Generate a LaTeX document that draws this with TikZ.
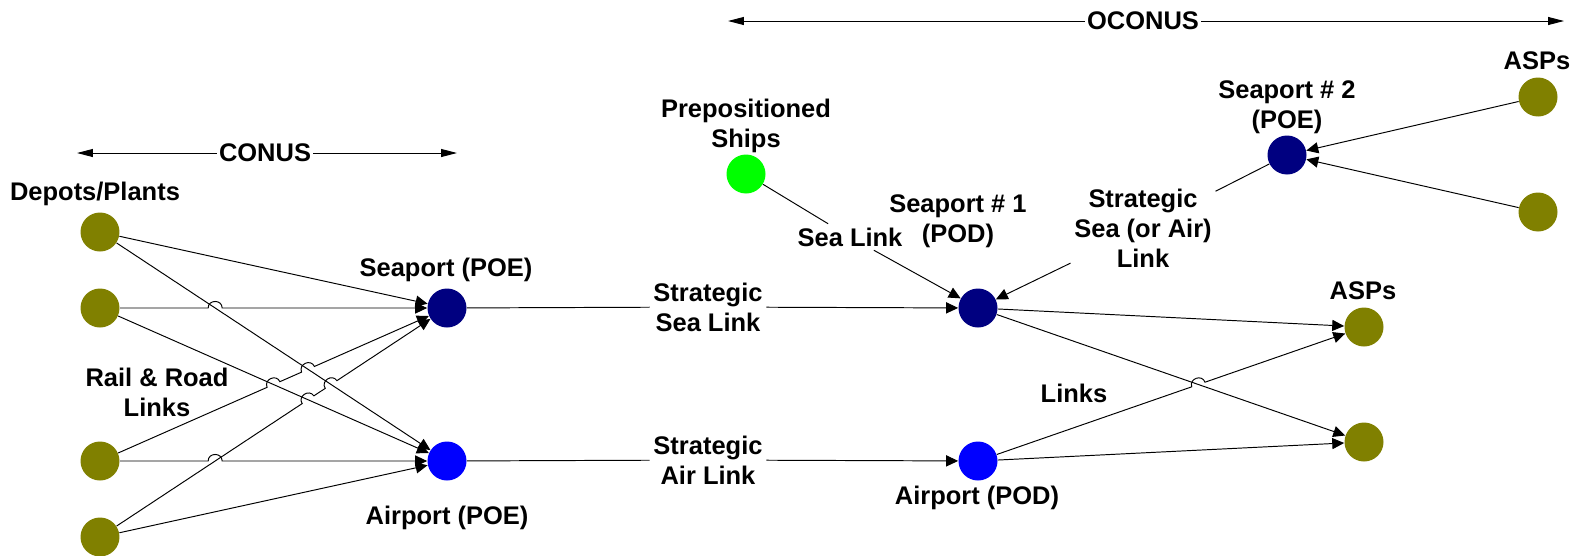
\documentclass[tikz,border=0pt]{standalone}
\usepackage{fontspec}
\setmainfont{Liberation Sans}
\usetikzlibrary{arrows.meta,calc,intersections}
\definecolor{SiteOlive}{HTML}{808000}
\definecolor{PortNavy}{HTML}{000080}
\definecolor{AirBlue}{HTML}{0000FF}
\definecolor{ShipGreen}{HTML}{00FF00}

\begin{document}
\begin{tikzpicture}[x=0.02cm,y=-0.02cm,
  site/.style={circle,inner sep=0pt,minimum size=0.78cm},
  lbl/.style={align=center,inner sep=2pt,font=\fontsize{14.5}{17}\selectfont\bfseries},
  link/.style={line width=0.55pt},
  arr/.style={link,-{Triangle[length=6.8pt,width=6.3pt]}},
  rangearrow/.style={link,-{Triangle[length=9pt,width=4.5pt]}},
  hop/.style={bend left=90,looseness=1.6}]
\path[use as bounding box] (0,0) rectangle (1575,555);

\node[site,fill=SiteOlive] (d1) at (100,232) {};
\node[site,fill=SiteOlive] (d2) at (100,308) {};
\node[site,fill=SiteOlive] (d3) at (100,461) {};
\node[site,fill=SiteOlive] (d4) at (100,537) {};
\node[site,fill=PortNavy] (spoe) at (447,308) {};
\node[site,fill=AirBlue] (apoe) at (447,461) {};
\node[site,fill=ShipGreen] (ships) at (746,174) {};
\node[site,fill=PortNavy] (sp1) at (978,308) {};
\node[site,fill=AirBlue] (apod) at (978,461) {};
\node[site,fill=PortNavy] (sp2) at (1287,155) {};
\node[site,fill=SiteOlive] (asp1) at (1364,327) {};
\node[site,fill=SiteOlive] (asp2) at (1364,442) {};
\node[site,fill=SiteOlive] (aspt1) at (1538,97) {};
\node[site,fill=SiteOlive] (aspt2) at (1538,212) {};

\node[lbl] (depL) at (95,194) {Depots/Plants};
\node[lbl,inner sep=1pt] (conus) at (265,153) {CONUS};
\node[lbl,inner sep=1pt] (oconus) at (1143,21) {OCONUS};
\coordinate (conusW) at (77,153);
\coordinate (conusE) at (457,153);
\coordinate (oconusW) at (728,21);
\coordinate (oconusE) at (1564,21);
\node[lbl] (spoeL) at (446,270) {Seaport (POE)};
\node[lbl] (apoeL) at (447,518) {Airport (POE)};
\node[lbl] (rail) at (157,392) {Rail \& Road\\Links};
\node[lbl] (ssl) at (708,307) {Strategic\\Sea Link};
\node[lbl] (sal) at (708,460) {Strategic\\Air Link};
\node[lbl] (shipsL) at (746,126) {Prepositioned\\Ships};
\node[lbl] (sealink) at (850,237) {Sea Link};
\node[lbl] (sp1L) at (958,221) {Seaport \# 1\\(POD)};
\node[lbl] (apodL) at (977,498) {Airport (POD)};
\node[lbl] (links) at (1074,393) {Links};
\node[lbl] (ssal) at (1143,228) {Strategic\\Sea (or Air)\\Link};
\node[lbl] (sp2L) at (1287,107) {Seaport \# 2\\(POE)};
\node[lbl] (asptL) at (1537,61) {ASPs};
\node[lbl] (asprL) at (1363,291) {ASPs};

\draw[rangearrow] (conus) -- (conusW);
\draw[rangearrow] (conus) -- (conusE);
\draw[rangearrow] (oconus) -- (oconusW);
\draw[rangearrow] (oconus) -- (oconusE);

\draw[arr,name path=d1a] (d1) -- (apoe);
\draw[arr,name path=d2a] (d2) -- (apoe);
\draw[arr] (d1) -- (spoe);
\draw[arr] (d4) -- (apoe);
\path[name path=d2s] (d2) -- (spoe);
\path[name path=d3s] (d3) -- (spoe);
\path[name path=d4s] (d4) -- (spoe);
\path[name path=d3a] (d3) -- (apoe);
\path[name intersections={of=d2s and d1a,by=j21}];
\path[name intersections={of=d3s and d2a,by=j32}];
\path[name intersections={of=d3s and d1a,by=j31}];
\path[name intersections={of=d4s and d2a,by=j42}];
\path[name intersections={of=d4s and d1a,by=j41}];
\path[name intersections={of=d3a and d4s,by=j34}];
\draw[arr] (d2) -- ($(j21)!0.14cm!(d2)$) to[hop] ($(j21)!0.14cm!(spoe)$) -- (spoe);
\draw[arr] (d3) -- ($(j32)!0.14cm!(d3)$) to[hop] ($(j32)!0.14cm!(spoe)$)
  -- ($(j31)!0.14cm!(d3)$) to[hop] ($(j31)!0.14cm!(spoe)$) -- (spoe);
\draw[arr] (d4) -- ($(j42)!0.14cm!(d4)$) to[hop] ($(j42)!0.14cm!(spoe)$)
  -- ($(j41)!0.14cm!(d4)$) to[hop] ($(j41)!0.14cm!(spoe)$) -- (spoe);
\draw[arr] (d3) -- ($(j34)!0.14cm!(d3)$) to[hop] ($(j34)!0.14cm!(apoe)$) -- (apoe);

\draw[link] (spoe) -- (ssl);
\draw[arr] (ssl) -- (sp1);
\draw[link] (apoe) -- (sal);
\draw[arr] (sal) -- (apod);
\draw[link] (ships) -- (sealink);
\draw[arr] (sealink) -- (sp1);
\draw[link] (sp2) -- (ssal);
\draw[arr] (ssal) -- (sp1);
\draw[arr] (aspt1) -- (sp2);
\draw[arr] (aspt2) -- (sp2);

\draw[arr] (sp1) -- (asp1);
\draw[arr,name path=s1a2] (sp1) -- (asp2);
\draw[arr] (apod) -- (asp2);
\path[name path=pda1] (apod) -- (asp1);
\path[name intersections={of=pda1 and s1a2,by=jr}];
\draw[arr] (apod) -- ($(jr)!0.14cm!(apod)$) to[hop] ($(jr)!0.14cm!(asp1)$) -- (asp1);
\end{tikzpicture}
\end{document}
